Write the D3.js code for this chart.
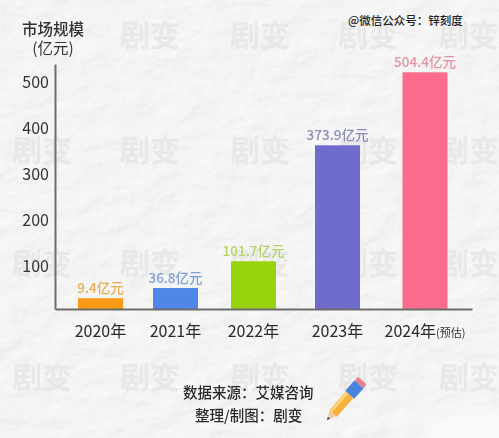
<!DOCTYPE html>
<html><head><meta charset="utf-8">
<script src="https://cdn.jsdelivr.net/npm/d3@7"></script>
<style>html,body{margin:0;padding:0;background:#f1f1f0}svg{display:block}text{font-family:"Noto Sans CJK SC","Noto Sans",sans-serif}</style>
</head><body><svg id="c" width="499" height="438"></svg>
<script>
const categories = ["2020年","2021年","2022年","2023年","2024年"];
const labelValues = [9.4,36.8,101.7,373.9,504.4];
// bar tops as they read against the printed axis (the picture's bars are not strictly to scale)
const barTops = [32,54,112,363,521];
const axisFloor = 8.6, axisCeil = 539;
const yTicks = [100,200,300,400,500];
const barColors = ["#fb9a12","#4f86e8","#97d40e","#706cce","#fb6c8c"];
const labelColors = ["#e3ad5a","#7f9fcf","#b4d46a","#8c8cbe","#e393a6"];
const watermarkCols = [42,150,260,368,469];
const watermarkRows = [46,161,274,388];

const svg = d3.select("#c");
const defs = svg.append("defs");
const f = defs.append("filter").attr("id","tex").attr("x",0).attr("y",0).attr("width","100%").attr("height","100%");
f.append("feTurbulence").attr("type","fractalNoise").attr("baseFrequency","0.03 0.045").attr("numOctaves",5).attr("seed",11).attr("result","n");
const lit = f.append("feDiffuseLighting").attr("in","n").attr("surfaceScale",1.6).attr("diffuseConstant",1.05).attr("lighting-color","#ffffff");
lit.append("feDistantLight").attr("azimuth",225).attr("elevation",62);
defs.append("filter").attr("id","soft").append("feGaussianBlur").attr("stdDeviation",0.45);
defs.append("filter").attr("id","wm").append("feGaussianBlur").attr("stdDeviation",0.7);
defs.append("filter").attr("id","patch").append("feGaussianBlur").attr("stdDeviation",10);

svg.append("rect").attr("width",499).attr("height",438).attr("fill","#f2f2f1");
svg.append("rect").attr("width",499).attr("height",438).attr("filter","url(#tex)").attr("opacity",0.55);
svg.append("ellipse").attr("cx",490).attr("cy",432).attr("rx",70).attr("ry",22).attr("fill","#fafafa").attr("filter","url(#patch)");

const wm = svg.append("g").attr("filter","url(#wm)");
watermarkRows.forEach((r,ri)=>watermarkCols.forEach((c,ci)=>{
  if (ri===0 && ci===0) return; // the reference shows no stamp behind the axis title
  wm.append("text").attr("x",c).attr("y",r).attr("text-anchor","middle")
    .attr("font-size",30).attr("font-weight",700).attr("fill","#e8e8e7").text("剧变");
}));

const centers = [100.5,175.5,253.5,337.5,425];
const xPos = d3.scaleOrdinal().domain(categories).range(centers);
const barW = 45;
const y = d3.scaleLinear().domain([axisFloor,axisCeil]).range([309,64]);

const chart = svg.append("g").attr("filter","url(#soft)");
chart.selectAll("rect.bar").data(categories).join("rect").attr("class","bar")
  .attr("x",d=>xPos(d)-barW/2).attr("width",barW)
  .attr("y",(d,i)=>y(barTops[i])).attr("height",(d,i)=>y(axisFloor)-y(barTops[i]))
  .attr("fill",(d,i)=>barColors[i]);

chart.selectAll("text.val").data(labelValues).join("text").attr("class","val")
  .attr("x",(d,i)=>xPos(categories[i])).attr("y",(d,i)=>y(barTops[i])-5)
  .attr("text-anchor","middle").attr("font-size",13.5).attr("font-weight",500)
  .attr("fill",(d,i)=>labelColors[i]).text(d=>d+"亿元");

const yAxis = d3.axisLeft(y).tickValues(yTicks).tickSize(0).tickPadding(6);
const gy = chart.append("g").attr("transform","translate(55,0)").call(yAxis);
gy.select(".domain").attr("stroke","#6d6d6d").attr("stroke-width",2);
gy.selectAll("text").attr("font-size",16).attr("font-family",'"Noto Sans","Noto Sans CJK SC",sans-serif').attr("fill","#333");

const xAxisLine = d3.axisBottom(d3.scaleLinear().domain([0,1]).range([55,472])).tickValues([]).tickSize(0);
const gx = chart.append("g").attr("transform","translate(0,309)").call(xAxisLine);
gx.select(".domain").attr("stroke","#6d6d6d").attr("stroke-width",2);

const cats = chart.selectAll("text.cat").data(categories).join("text").attr("class","cat")
  .attr("x",d=>xPos(d)).attr("y",337).attr("text-anchor","middle")
  .attr("font-size",16).attr("fill","#2b2b2b").text(d=>d);
cats.filter(d=>d==="2024年").append("tspan").attr("font-size",11).attr("fill","#333").text("(预估)");

chart.append("text").attr("x",53).attr("y",34.5).attr("text-anchor","middle").attr("font-size",15.5).attr("font-weight",500).attr("fill","#333").text("市场规模");
chart.append("text").attr("x",53).attr("y",54).attr("text-anchor","middle").attr("font-size",15.5).attr("fill","#333").text("(亿元)");

chart.append("text").attr("x",183).attr("y",398).attr("font-size",14.5).attr("font-weight",500).attr("fill","#2b2b2b").text("数据来源：艾媒咨询");
chart.append("text").attr("x",195).attr("y",421).attr("font-size",14.5).attr("font-weight",500).attr("fill","#2b2b2b").text("整理/制图：剧变");

svg.append("text").attr("x",348).attr("y",25).attr("font-size",11.5).attr("font-weight",500).attr("fill","#222").text("@微信公众号：锌刻度");

// pencil
const p = chart.append("g").attr("transform","translate(327,420) rotate(42)");
p.append("path").attr("d","M0,0 L4.5,-9 L-4.5,-9 Z").attr("fill","#e9cfa0");
p.append("path").attr("d","M0,0 L1.6,-3 L-1.6,-3 Z").attr("fill","#444");
p.append("rect").attr("x",-5).attr("y",-34).attr("width",10).attr("height",25).attr("fill","#f7b03a");
p.append("rect").attr("x",-5).attr("y",-34).attr("width",3.5).attr("height",25).attr("fill","#fbd27a");
p.append("rect").attr("x",-6).attr("y",-48).attr("width",12).attr("height",14).attr("fill","#4a83dd");
p.append("rect").attr("x",-6).attr("y",-53).attr("width",12).attr("height",5).attr("rx",2).attr("fill","#e8808e");
</script></body></html>
